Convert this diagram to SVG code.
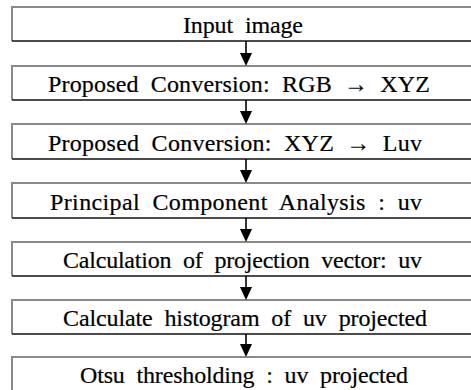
<svg xmlns="http://www.w3.org/2000/svg" width="471" height="390" viewBox="0 0 471 390">
  <defs>
    <style>
      .box { fill: #fff; stroke: none; }
      .edge-light { fill: none; stroke: #8a8a8a; stroke-width: 2; }
      .edge-dark { fill: none; stroke: #111; stroke-width: 1.6; }
      .label { font-family: 'Liberation Serif', 'Times New Roman', serif; font-size: 24px; word-spacing: 6px; fill: #000; stroke: #000; stroke-width: 0.2; }
      .shaft { stroke: #000; stroke-width: 1.6; fill: none; }
      .head { fill: #000; stroke: none; }
    </style>
  </defs>
  <rect width="471" height="390" fill="#fff"/>

  <!-- process steps: boxes run off the right edge -->
  <g id="step1">
    <rect class="box" x="12" y="7" width="470" height="34"/>
    <path class="edge-light" d="M12 41 V7 H482"/>
    <path class="edge-dark" d="M12 41 H482"/>
    <text class="label" x="183" y="33" textLength="120" lengthAdjust="spacing">Input image</text>
  </g>
  <g id="step2">
    <rect class="box" x="12" y="66" width="470" height="34"/>
    <path class="edge-light" d="M12 100 V66 H482"/>
    <path class="edge-dark" d="M12 100 H482"/>
    <text class="label" x="48" y="92" textLength="382" lengthAdjust="spacing">Proposed Conversion: RGB → XYZ</text>
  </g>
  <g id="step3">
    <rect class="box" x="12" y="124" width="470" height="35"/>
    <path class="edge-light" d="M12 159 V124 H482"/>
    <path class="edge-dark" d="M12 159 H482"/>
    <text class="label" x="48" y="151" textLength="374" lengthAdjust="spacing">Proposed Conversion: XYZ → Luv</text>
  </g>
  <g id="step4">
    <rect class="box" x="12" y="183" width="470" height="35"/>
    <path class="edge-light" d="M12 218 V183 H482"/>
    <path class="edge-dark" d="M12 218 H482"/>
    <text class="label" x="50" y="210" textLength="372" lengthAdjust="spacing">Principal Component Analysis : uv</text>
  </g>
  <g id="step5">
    <rect class="box" x="12" y="242" width="470" height="34"/>
    <path class="edge-light" d="M12 276 V242 H482"/>
    <path class="edge-dark" d="M12 276 H482"/>
    <text class="label" x="63" y="268" textLength="359" lengthAdjust="spacing">Calculation of projection vector: uv</text>
  </g>
  <g id="step6">
    <rect class="box" x="12" y="300" width="470" height="34"/>
    <path class="edge-light" d="M12 334 V300 H482"/>
    <path class="edge-dark" d="M12 334 H482"/>
    <text class="label" x="63" y="326" textLength="364" lengthAdjust="spacing">Calculate histogram of uv projected</text>
  </g>
  <g id="step7">
    <rect class="box" x="12" y="357" width="470" height="40"/>
    <path class="edge-light" d="M12 397 V357 H482"/>
    <text class="label" x="80" y="383" textLength="328" lengthAdjust="spacing">Otsu thresholding : uv projected</text>
  </g>

  <!-- connectors -->
  <g id="connectors">
    <line class="shaft" x1="246" y1="41" x2="246" y2="54"/>
    <polygon class="head" points="240,53 252,53 246,66"/>
    <line class="shaft" x1="246" y1="100" x2="246" y2="112"/>
    <polygon class="head" points="240,111 252,111 246,124"/>
    <line class="shaft" x1="246" y1="159" x2="246" y2="171"/>
    <polygon class="head" points="240,170 252,170 246,183"/>
    <line class="shaft" x1="246" y1="218" x2="246" y2="230"/>
    <polygon class="head" points="240,229 252,229 246,242"/>
    <line class="shaft" x1="246" y1="276" x2="246" y2="288"/>
    <polygon class="head" points="240,287 252,287 246,300"/>
    <line class="shaft" x1="246" y1="334" x2="246" y2="345"/>
    <polygon class="head" points="240,344 252,344 246,357"/>
  </g>
</svg>
